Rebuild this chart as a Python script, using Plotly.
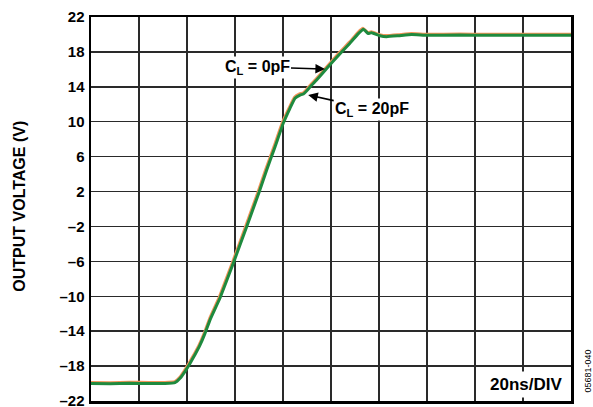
import plotly.graph_objects as go

# time in ns (20 ns / division), output voltage in V
t_20pf = [0, 8, 16, 24, 30.8, 35.0, 37.1, 39.2, 41.25, 43.3, 45.4, 47.5, 49.6, 53.75, 59.3,
          64.9, 70.0, 73.2, 76.7, 80.1, 82.9, 85.0, 87.1, 88.5, 90.1, 92.0, 94.0, 98.2, 103.75,
          107.9, 111.4, 113.5, 115.5, 116.9, 120.4, 123.2, 128.0, 133.6, 140.0, 153.75, 165.0,
          180.0, 200.0]
v_20pf = [-20.0, -20.03, -19.97, -20.0, -20.0, -19.9, -19.4, -18.6, -17.7, -16.7, -15.6, -14.25,
          -12.7, -10.2, -6.2, -2.0, 1.9, 4.47, 7.14, 9.82, 11.54, 12.68, 13.06, 13.17, 13.6, 14.2,
          14.78, 16.1, 17.8, 19.0, 20.1, 20.6, 20.1, 20.2, 19.86, 19.75, 19.85, 20.0, 19.9, 19.94,
          19.9, 19.92, 19.9]

t_0pf = [0, 8, 16, 24, 30.7, 34.9, 37.0, 39.0, 41.0, 43.1, 45.2, 47.3, 49.4, 53.5, 59.0,
         64.6, 69.7, 72.9, 76.4, 79.8, 82.7, 84.8, 86.9, 88.3, 89.9, 91.8, 93.8, 98.0, 103.5,
         107.7, 111.2, 113.3, 115.3, 116.8, 120.3, 123.1, 128.0, 133.5, 140.0, 153.7, 165.0,
         180.0, 200.0]
v_0pf = [-19.88, -19.9, -19.85, -19.88, -19.88, -19.78, -19.28, -18.48, -17.58, -16.58, -15.48,
         -14.12, -12.57, -10.07, -6.07, -1.87, 2.03, 4.6, 7.27, 9.95, 11.67, 12.8, 13.18, 13.3,
         13.73, 14.33, 14.9, 16.22, 17.92, 19.12, 20.22, 20.7, 20.22, 20.3, 19.98, 19.87, 19.97,
         20.1, 20.02, 20.05, 20.02, 20.03, 20.02]

y_ticks = list(range(-22, 23, 4))
x_ticks = list(range(0, 201, 20))

fig = go.Figure()
fig.add_trace(go.Scatter(x=t_0pf, y=v_0pf, mode="lines",
                         line=dict(color="#F2945A", width=3, shape="spline", smoothing=0.3),
                         showlegend=False, hoverinfo="skip"))
fig.add_trace(go.Scatter(x=t_20pf, y=v_20pf, mode="lines",
                         line=dict(color="#1E8A3E", width=3, shape="spline", smoothing=0.3),
                         showlegend=False, hoverinfo="skip"))

font_b = "Liberation Sans, Arial, sans-serif"

fig.update_layout(
    width=593, height=407,
    margin=dict(l=91, r=22, t=17, b=6),
    paper_bgcolor="white", plot_bgcolor="white",
    font=dict(family=font_b, color="black"),
    xaxis=dict(range=[0, 200], tickvals=x_ticks, showticklabels=False, automargin=False,
               showgrid=True, gridcolor="#2a2a2a", gridwidth=1.5, zeroline=False,
               showline=True, linecolor="black", linewidth=2.5, mirror=True, ticks=""),
    yaxis=dict(range=[-22, 22], tickvals=y_ticks, automargin=False,
               ticktext=[str(v) if v >= 0 else "\u2013" + str(-v) for v in y_ticks],
               tickfont=dict(family=font_b, size=15, color="black", weight="bold"),
               showgrid=True, gridcolor="#2a2a2a", gridwidth=1.5, zeroline=False,
               showline=True, linecolor="black", linewidth=2.5, mirror=True, ticks="",
               ticklabelstandoff=1, ticklabeloverflow="allow"),
)

fig.add_annotation(text="<b>OUTPUT VOLTAGE (V)</b>", textangle=-90, xref="paper", yref="paper",
                   x=0, y=0.506, xanchor="center", yanchor="middle", xshift=-71, showarrow=False,
                   font=dict(size=16, family=font_b, color="black"))

fig.add_annotation(text="<b>C<sub>L</sub> = 0pF</b>", x=97.5, y=16.04, xref="x", yref="y",
                   ax=-68, ay=-2, showarrow=True, arrowhead=2, arrowsize=1.2, arrowwidth=1.6,
                   arrowcolor="black", font=dict(size=16, family=font_b, color="black"),
                   bgcolor="white", borderpad=1)
fig.add_annotation(text="<b>C<sub>L</sub> = 20pF</b>", x=90.5, y=13.06, xref="x", yref="y",
                   ax=64, ay=14, showarrow=True, arrowhead=2, arrowsize=1.2, arrowwidth=1.6,
                   arrowcolor="black", font=dict(size=16, family=font_b, color="black"),
                   bgcolor="white", borderpad=1)

fig.add_annotation(text="<b>20ns/DIV</b>", xref="paper", yref="paper", x=1, y=0,
                   xanchor="right", yanchor="bottom", xshift=-5, yshift=3, showarrow=False,
                   font=dict(size=17, family=font_b, color="black"), bgcolor="white", borderpad=3)

fig.add_annotation(text="05681-040", textangle=-90, xref="paper", yref="paper", x=1, y=0.077,
                   xanchor="center", yanchor="middle", xshift=17, showarrow=False,
                   font=dict(size=9, family=font_b, color="black"))

fig.write_html("out.html", config={"displayModeBar": False, "staticPlot": True},
               post_script="document.body.style.margin='0px';")
